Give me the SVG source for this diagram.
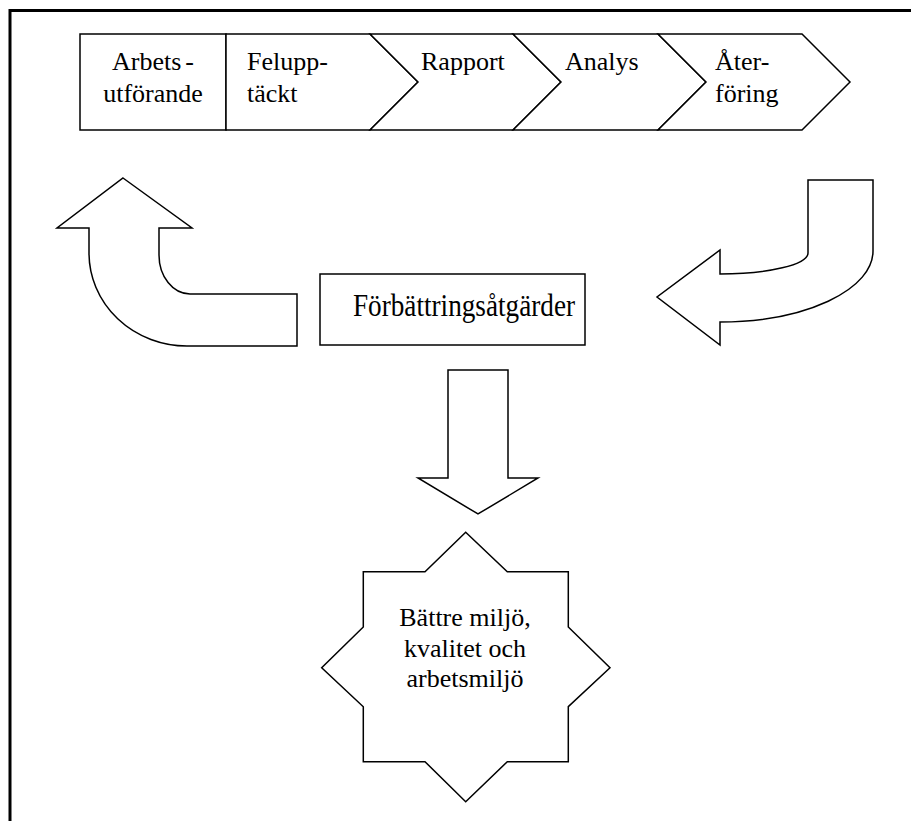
<svg xmlns="http://www.w3.org/2000/svg" width="911" height="821" viewBox="0 0 911 821">
<style>
.s{fill:#fff;stroke:#000;stroke-width:1.5;stroke-linejoin:miter}
text{font-family:'Liberation Serif','Times New Roman',Tinos,'Nimbus Roman','DejaVu Serif',serif;font-size:26px;fill:#000}
.frame{fill:none;stroke:#000;stroke-width:3}
</style>
<rect width="911" height="821" fill="#fff"/>
<path class="frame" d="M10,821 L10,10.5 L911,10.5"/>
<g id="process">
  <g id="arbetsutforande">
    <rect class="s" x="80" y="34" width="146" height="96"/>
    <text x="153" y="70" text-anchor="middle">Arbets<tspan dx="4">-</tspan></text>
    <text x="153" y="102" text-anchor="middle">utförande</text>
  </g>
  <g id="felupptackt">
    <path class="s" d="M226,34 L370,34 L418,82 L370,130 L226,130 Z"/>
    <text x="247" y="70">Felupp-</text>
    <text x="247" y="102">täckt</text>
  </g>
  <g id="rapport">
    <path class="s" d="M370,34 L513,34 L561,82 L513,130 L370,130 L418,82 Z"/>
    <text x="421" y="70">Rapport</text>
  </g>
  <g id="analys">
    <path class="s" d="M513,34 L658,34 L706,82 L658,130 L513,130 L561,82 Z"/>
    <text x="565" y="70">Analys</text>
  </g>
  <g id="aterforing">
    <path class="s" d="M658,34 L802,34 L850,82 L802,130 L658,130 L706,82 Z"/>
    <text x="715" y="70">Åter-</text>
    <text x="715" y="102">föring</text>
  </g>
</g>
<g id="connectors">
  <path id="arrow-left-up" class="s" d="M123,178 L192,228 L159,228 L159,255 A31,39 0 0 0 190,294 L297,294 L297,346 L187,346 A98,93 0 0 1 89,253 L89,228 L57,228 Z"/>
  <path id="arrow-right-j" class="s" d="M808,180 L873,180 L873,251 A153,71 0 0 1 720,322 L720,345 L657,297 L720,250 L720,274 A88,21 0 0 0 808,253 Z"/>
  <path id="arrow-down" class="s" d="M448,370 L508,370 L508,478 L538,478 L478,514 L418,478 L448,478 Z"/>
</g>
<g id="forbattringsatgarder">
  <rect class="s" x="320" y="274" width="265" height="71"/>
  <text x="353" y="316" style="font-size:32px" textLength="222" lengthAdjust="spacingAndGlyphs">Förbättringsåtgärder</text>
</g>
<g id="resultat">
  <polygon class="s" points="465.7,532.3 507.3,571.7 568.3,571.7 568.3,627 610,667.7 568.3,706.7 568.3,761.7 507.3,761.7 465.7,801.7 425,761.7 363.3,761.7 363.3,706.7 321.7,667.7 363.3,627 363.3,571.7 425,571.7"/>
  <text x="465" y="626" text-anchor="middle">Bättre miljö,</text>
  <text x="465" y="656.5" text-anchor="middle">kvalitet och</text>
  <text x="465" y="687" text-anchor="middle">arbetsmiljö</text>
</g>
</svg>
